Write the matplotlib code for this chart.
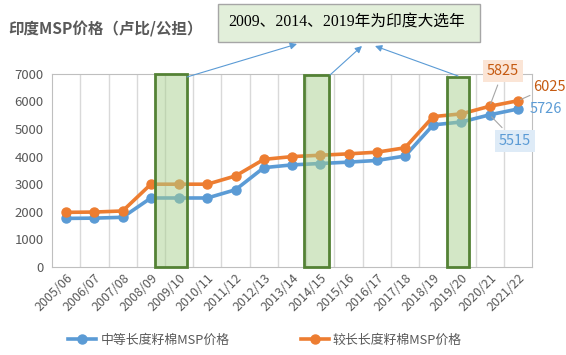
import matplotlib.pyplot as plt
from matplotlib.patches import Rectangle

plt.rcParams['font.family'] = ['Noto Sans CJK SC', 'DejaVu Sans']

years = ['2005/06', '2006/07', '2007/08', '2008/09', '2009/10', '2010/11',
         '2011/12', '2012/13', '2013/14', '2014/15', '2015/16', '2016/17',
         '2017/18', '2018/19', '2019/20', '2020/21', '2021/22']
medium = [1760, 1770, 1800, 2500, 2500, 2500, 2800, 3600, 3700, 3750,
          3800, 3860, 4020, 5150, 5255, 5515, 5726]
longer = [1980, 1990, 2030, 3000, 3000, 3000, 3300, 3900, 4000, 4050,
          4100, 4160, 4320, 5450, 5550, 5825, 6025]

blue = '#5B9BD5'
orange = '#ED7D31'
gray = '#595959'
W, H = 566, 355


def fpx(px, py):
    # pixel position measured from the top-left -> figure fraction
    return px / W, 1 - py / H


fig = plt.figure(figsize=(W / 100, H / 100), dpi=100)
ax = fig.add_axes([0.092, 0.248, 0.848, 0.544])
x = list(range(len(years)))

ax.plot(x, medium, color=blue, lw=2.6, marker='o', ms=6.5, label='中等长度籽棉MSP价格', zorder=3)
ax.plot(x, longer, color=orange, lw=2.6, marker='o', ms=6.5, label='较长长度籽棉MSP价格', zorder=3)

# election-year highlight boxes
boxes = [(3.14, 4.28, 7000), (8.42, 9.32, 6950), (13.48, 14.28, 6900)]
for x0, x1, top in boxes:
    ax.add_patch(Rectangle((x0, 0), x1 - x0, top, facecolor=(0.66, 0.82, 0.56, 0.5),
                           edgecolor='#548235', lw=2, zorder=4, clip_on=False))

ax.set_xlim(-0.5, len(years) - 0.5)
ax.set_ylim(0, 7000)
ax.set_yticks(range(0, 7001, 1000))
ax.set_xticks(x)
ax.set_xticklabels(years, rotation=45, ha='right', rotation_mode='anchor', fontsize=9, color=gray)
ax.tick_params(axis='y', labelsize=9.5, colors=gray, length=0, pad=6)
ax.tick_params(axis='x', length=0, pad=3)
ax.set_xticks([i + 0.5 for i in x[:-1]], minor=True)
ax.tick_params(axis='x', which='minor', length=0)
ax.grid(axis='x', which='minor', color='#D9D9D9', lw=1)
for s in ax.spines.values():
    s.set_color('#BFBFBF')

# data labels
lead = dict(arrowstyle='-', color='#A6A6A6', lw=0.8)
ax.annotate(str(longer[15]), xy=(15, longer[15]), xytext=fpx(503, 71), textcoords='figure fraction',
            fontsize=10.5, color='#C55A11', ha='center', va='center',
            bbox=dict(boxstyle='square,pad=0.3', fc='#FBE5D6', ec='none'),
            arrowprops=lead, annotation_clip=False)
ax.annotate(str(medium[15]), xy=(15, medium[15]), xytext=fpx(515, 141), textcoords='figure fraction',
            fontsize=10.5, color=blue, ha='center', va='center',
            bbox=dict(boxstyle='square,pad=0.3', fc='#DEEBF7', ec='none'),
            arrowprops=lead, annotation_clip=False)
ax.annotate(str(longer[16]), xy=(16, longer[16]), xytext=fpx(549, 87), textcoords='figure fraction',
            fontsize=10.5, color='#C55A11', ha='center', va='center',
            arrowprops=dict(lead, shrinkA=11), annotation_clip=False)
ax.annotate(str(medium[16]), xy=(16, medium[16]), xytext=fpx(546, 109), textcoords='figure fraction',
            fontsize=10.5, color=blue, ha='center', va='center', annotation_clip=False)

fig.text(*fpx(8, 29), '印度MSP价格（卢比/公担）', fontsize=11.2, fontweight='bold',
         color=gray, va='center', ha='left')

# note box with arrows
bx0, by0 = fpx(218, 42)
fig.add_artist(Rectangle((bx0, by0), 262 / W, 38 / H, transform=fig.transFigure,
                         facecolor='#E2EFDA', edgecolor='#A6A6A6', lw=1))
fig.text(*fpx(347, 23), '2009、2014、2019年为印度大选年', fontsize=11.3, color='black',
         ha='center', va='center', family=['Liberation Serif', 'Noto Sans CJK SC'])
for (sx, sy), (ex, ey) in [((187, 77), (297, 44)), ((330, 75), (362, 46)), ((458, 76), (375, 46))]:
    fig.add_artist(plt.Annotation('', xy=fpx(ex, ey), xytext=fpx(sx, sy),
                                  xycoords='figure fraction', textcoords='figure fraction',
                                  arrowprops=dict(arrowstyle='-|>', color=blue, lw=0.8,
                                                  mutation_scale=10, shrinkA=0, shrinkB=0)))

leg = fig.legend(loc='center', bbox_to_anchor=fpx(265, 340), ncol=2, frameon=False,
                 fontsize=9.3, columnspacing=5.5, handlelength=2.2, handletextpad=0.3)
for t in leg.get_texts():
    t.set_color(gray)

fig.savefig('out.png', dpi=100)
